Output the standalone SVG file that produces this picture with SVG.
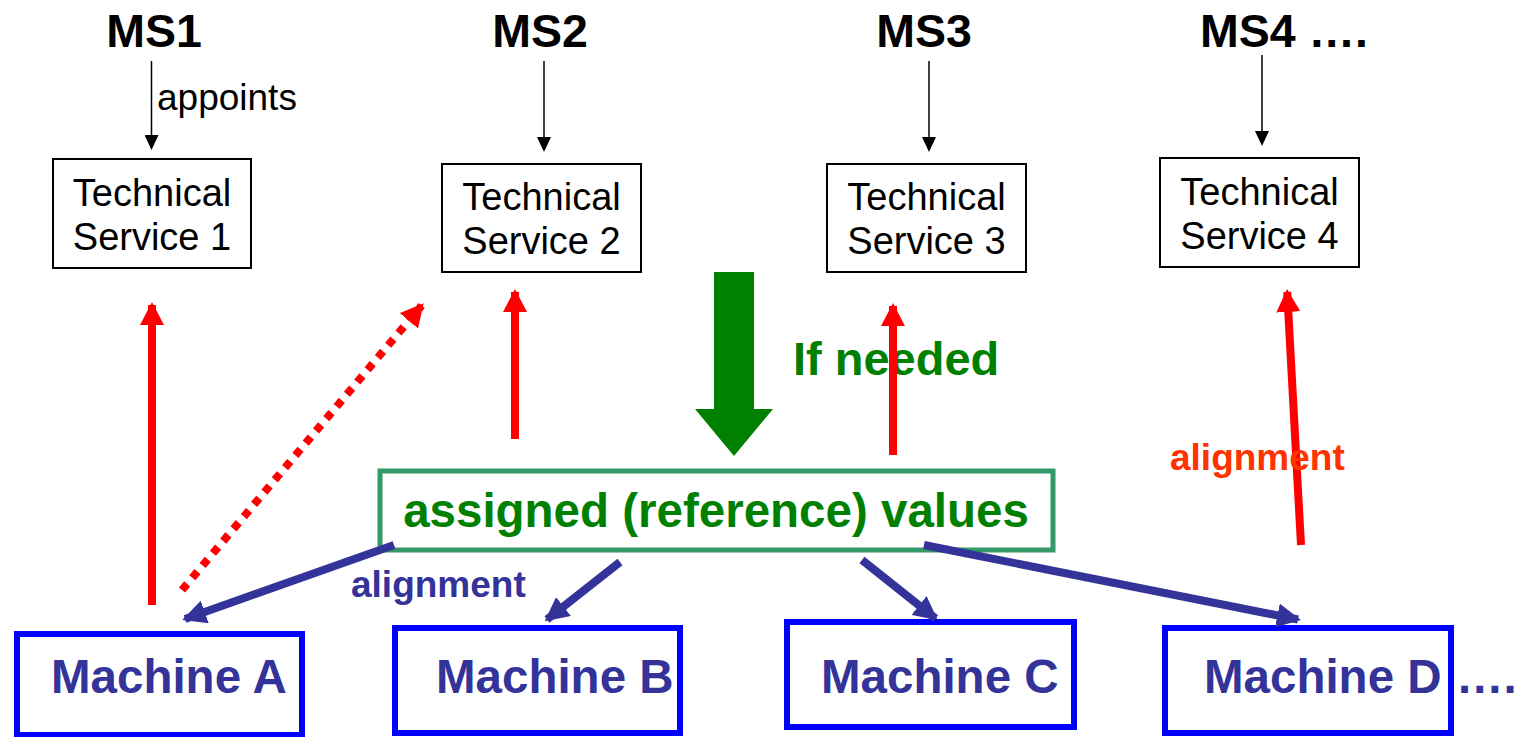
<svg xmlns="http://www.w3.org/2000/svg" width="1521" height="737" viewBox="0 0 1521 737">
  <style>
    .ms { font-family: "Liberation Sans", Arial, sans-serif; font-weight: bold; font-size: 46.5px; fill: #000; }
    .ts-box { fill: #fff; stroke: #000; stroke-width: 2; }
    .ts-text { font-family: "Liberation Sans", Arial, sans-serif; font-size: 38px; fill: #000; text-anchor: middle; }
    .small { font-family: "Liberation Sans", Arial, sans-serif; font-size: 37px; fill: #000; }
    .m-box { fill: #fff; stroke: #0000ff; stroke-width: 6; }
    .m-text { font-family: "Liberation Sans", Arial, sans-serif; font-weight: bold; font-size: 47.5px; fill: #333399; }
    .ref-box { fill: #fff; stroke: #339966; stroke-width: 5; }
    .ref-text { font-family: "Liberation Sans", Arial, sans-serif; font-weight: bold; font-size: 47.5px; fill: #008000; text-anchor: middle; }
    .lbl { font-family: "Liberation Sans", Arial, sans-serif; font-weight: bold; font-size: 37px; }
    .big-lbl { font-family: "Liberation Sans", Arial, sans-serif; font-weight: bold; font-size: 47px; }
    .appoint { stroke: #000; stroke-width: 1.5; fill: none; marker-end: url(#headBlack); }
    .red { stroke: #ff0000; stroke-width: 8; fill: none; marker-end: url(#headRed); }
    .red-dot { stroke: #ff0000; stroke-width: 8; fill: none; stroke-dasharray: 8 8; marker-end: url(#headRed); }
    .blue { stroke: #333399; stroke-width: 8; fill: none; marker-end: url(#headBlue); }
  </style>
  <defs>
    <marker id="headBlack" markerUnits="userSpaceOnUse" viewBox="0 0 15 14" markerWidth="15" markerHeight="14" refX="13" refY="7" orient="auto">
      <path d="M0,0 L15,7 L0,14 z" fill="#000"/>
    </marker>
    <marker id="headRed" markerUnits="userSpaceOnUse" viewBox="0 0 23 24" markerWidth="23" markerHeight="24" refX="20" refY="12" orient="auto">
      <path d="M0,0 L23,12 L0,24 z" fill="#ff0000"/>
    </marker>
    <marker id="headBlue" markerUnits="userSpaceOnUse" viewBox="0 0 24 24" markerWidth="24" markerHeight="24" refX="21" refY="12" orient="auto">
      <path d="M0,0 L24,12 L0,24 z" fill="#333399"/>
    </marker>
  </defs>

  <rect width="1521" height="737" fill="#fff"/>

  <!-- Member states -->
  <g id="ms1"><text class="ms" x="154" y="47" text-anchor="middle">MS1</text></g>
  <g id="ms2"><text class="ms" x="540" y="47" text-anchor="middle">MS2</text></g>
  <g id="ms3"><text class="ms" x="924" y="47" text-anchor="middle">MS3</text></g>
  <g id="ms4"><text class="ms" x="1200" y="47">MS4 ….</text></g>

  <!-- Technical services -->
  <g id="ts1">
    <rect class="ts-box" x="53" y="159" width="198" height="109"/>
    <text class="ts-text" x="152" y="206">Technical</text>
    <text class="ts-text" x="152" y="250">Service 1</text>
  </g>
  <g id="ts2">
    <rect class="ts-box" x="442" y="164" width="199" height="108"/>
    <text class="ts-text" x="541.5" y="210">Technical</text>
    <text class="ts-text" x="541.5" y="254">Service 2</text>
  </g>
  <g id="ts3">
    <rect class="ts-box" x="827" y="164" width="199" height="108"/>
    <text class="ts-text" x="926.5" y="210">Technical</text>
    <text class="ts-text" x="926.5" y="254">Service 3</text>
  </g>
  <g id="ts4">
    <rect class="ts-box" x="1160" y="158" width="199" height="109"/>
    <text class="ts-text" x="1259.5" y="205">Technical</text>
    <text class="ts-text" x="1259.5" y="249">Service 4</text>
  </g>

  <!-- Reference values -->
  <g id="reference-values">
    <rect class="ref-box" x="380" y="471" width="673" height="79"/>
    <text class="ref-text" x="716" y="527">assigned (reference) values</text>
  </g>

  <!-- Machines -->
  <g id="machine-a">
    <rect class="m-box" x="17" y="634" width="285" height="101"/>
    <text class="m-text" x="51" y="693">Machine A</text>
  </g>
  <g id="machine-b">
    <rect class="m-box" x="395" y="628" width="285" height="105"/>
    <text class="m-text" x="436" y="693">Machine B</text>
  </g>
  <g id="machine-c">
    <rect class="m-box" x="787" y="622" width="287" height="105"/>
    <text class="m-text" x="821" y="693">Machine C</text>
  </g>
  <g id="machine-d">
    <rect class="m-box" x="1165" y="628" width="286" height="105"/>
    <text class="m-text" x="1204" y="693">Machine D</text>
    <text class="m-text" x="1456" y="693">….</text>
  </g>

  <!-- Connectors -->
  <g id="connectors">
    <!-- appointment arrows -->
    <line class="appoint" x1="151.5" y1="61" x2="151.5" y2="148"/>
    <line class="appoint" x1="544" y1="61" x2="544" y2="150"/>
    <line class="appoint" x1="929" y1="61" x2="929" y2="150"/>
    <line class="appoint" x1="1262" y1="55" x2="1262" y2="144"/>
    <text class="small" x="157" y="110">appoints</text>

    <!-- "if needed" feed into reference values -->
    <polygon points="714,272 754,272 754,409 773,409 734,456 695,409 714,409" fill="#008000"/>
    <text class="big-lbl" x="793" y="375" fill="#008000">If needed</text>

    <!-- alignment with technical services -->
    <line class="red" x1="152" y1="605" x2="152" y2="305"/>
    <line class="red-dot" x1="182" y1="590" x2="421.7" y2="305.5"/>
    <line class="red" x1="515" y1="439" x2="515" y2="292"/>
    <line class="red" x1="893" y1="455" x2="893" y2="306"/>
    <line class="red" x1="1301" y1="545" x2="1287.2" y2="292"/>
    <text class="lbl" x="1170" y="470" fill="#ff3300">alignment</text>

    <!-- alignment of machines to reference values -->
    <line class="blue" x1="394" y1="545" x2="185" y2="619"/>
    <line class="blue" x1="620" y1="562" x2="547" y2="619.5"/>
    <line class="blue" x1="862" y1="560" x2="935.5" y2="618.5"/>
    <line class="blue" x1="924" y1="545" x2="1298" y2="619.5"/>
    <text class="lbl" x="351" y="597" fill="#333399">alignment</text>
  </g>
</svg>
